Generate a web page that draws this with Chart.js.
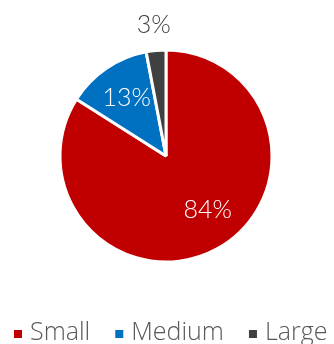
<!DOCTYPE html>
<html>
<head>
<meta charset="utf-8">
<script src="https://cdn.jsdelivr.net/npm/chart.js@4/dist/chart.umd.min.js"></script>
<style>
  html, body { margin: 0; padding: 0; background: #ffffff; }
  #wrap { width: 334px; height: 344px; position: relative; }
</style>
</head>
<body>
<div id="wrap"><canvas id="c" width="334" height="344"></canvas></div>
<script>
// Share of firms by size
const categories = ['Small', 'Medium', 'Large'];
const shares = [84, 13, 3];
const sliceColors = ['#C00000', '#0070C0', '#404040'];
// Label placement per slice: position along the arc (0..1), fraction of the radius, text colour
const labelAlong = [0.47, 0.5, 0.5];
const labelRadius = [0.64, 0.66, 1.24];
const labelColors = ['#ffffff', '#ffffff', '#404040'];

const LABEL_FONT = "300 25px Lato, 'Open Sans', sans-serif";
const LEGEND_FONT = "300 25px 'Open Sans', 'DejaVu Sans', sans-serif";

// Percentage labels on / beside each slice
const sliceLabels = {
  id: 'sliceLabels',
  afterDatasetsDraw(chart) {
    const ctx = chart.ctx;
    const meta = chart.getDatasetMeta(0);
    ctx.save();
    ctx.font = LABEL_FONT;
    ctx.textAlign = 'center';
    ctx.textBaseline = 'middle';
    meta.data.forEach((arc, i) => {
      const p = arc.getProps(['x', 'y', 'startAngle', 'endAngle', 'outerRadius'], true);
      const a = p.startAngle + (p.endAngle - p.startAngle) * labelAlong[i];
      const r = p.outerRadius * labelRadius[i];
      ctx.fillStyle = labelColors[i];
      ctx.fillText(shares[i] + '%', p.x + Math.cos(a) * r, p.y + Math.sin(a) * r);
    });
    ctx.restore();
  }
};

// Single-row legend along the bottom edge, with wide spacing between entries
const bottomLegend = {
  id: 'bottomLegend',
  afterDraw(chart) {
    const ctx = chart.ctx;
    const box = 8, gapText = 8, gapItem = 25, baseline = 340;
    ctx.save();
    ctx.font = LEGEND_FONT;
    ctx.textBaseline = 'alphabetic';
    ctx.textAlign = 'left';
    const widths = categories.map(c => ctx.measureText(c).width);
    const total = widths.reduce((s, w) => s + box + gapText + w, 0) + gapItem * (categories.length - 1);
    let x = Math.round(171 - total / 2);
    categories.forEach((c, i) => {
      ctx.fillStyle = sliceColors[i];
      ctx.fillRect(x, baseline - 10, box, box);
      x += box + gapText;
      ctx.fillStyle = '#595959';
      ctx.fillText(c, x, baseline);
      x += widths[i] + gapItem;
    });
    ctx.restore();
  }
};

new Chart(document.getElementById('c'), {
  type: 'pie',
  data: {
    labels: categories,
    datasets: [{
      data: shares,
      backgroundColor: sliceColors,
      borderColor: '#ffffff',
      borderWidth: 3
    }]
  },
  options: {
    responsive: false,
    animation: false,
    radius: 106,
    layout: { padding: { top: 0, left: 0, right: 2, bottom: 32 } },
    plugins: {
      tooltip: { enabled: false },
      legend: { display: false }
    }
  },
  plugins: [sliceLabels, bottomLegend]
});
</script>
</body>
</html>
